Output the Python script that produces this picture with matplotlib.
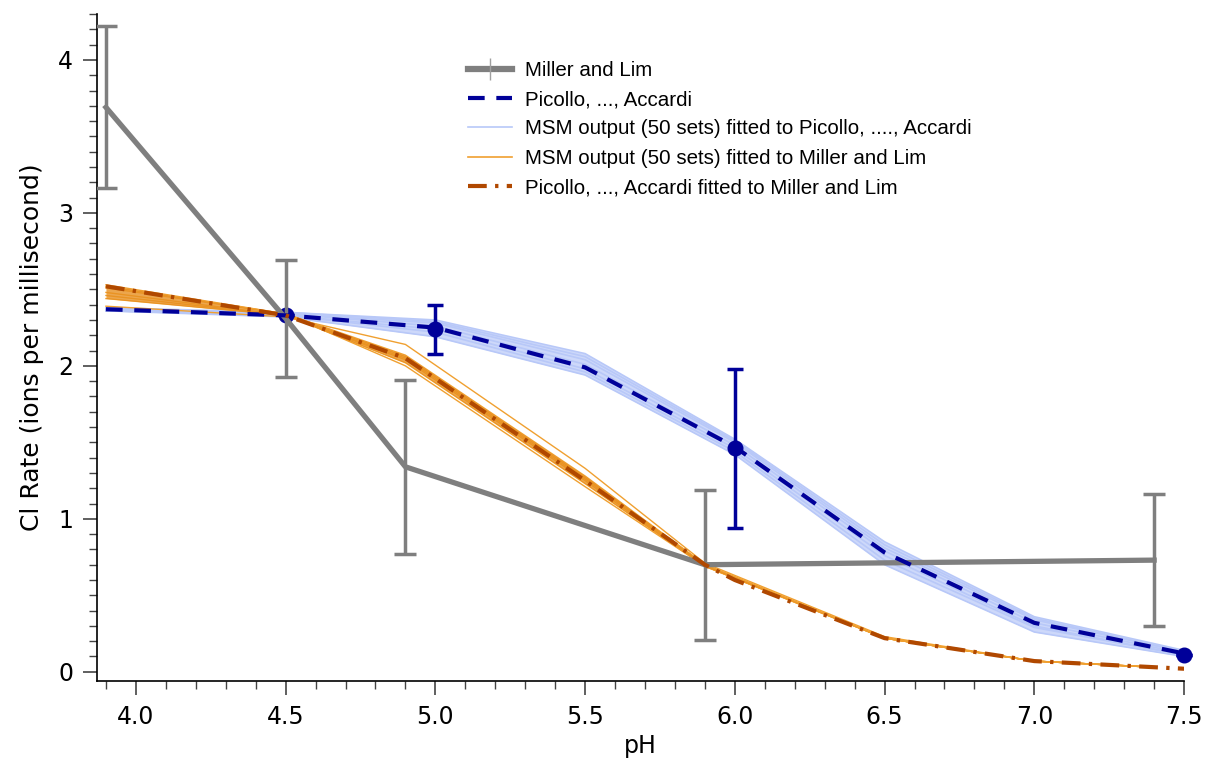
import matplotlib
matplotlib.use("Agg")
import matplotlib.pyplot as plt
from matplotlib.ticker import MultipleLocator
from matplotlib.lines import Line2D
import numpy as np

# Miller and Lim (measured)
ml_ph = [3.9, 4.5, 4.9, 5.9, 7.4]
ml_rate = [3.69, 2.31, 1.34, 0.70, 0.73]
ml_err = [0.53, 0.38, 0.57, 0.49, 0.43]

# Picollo, ..., Accardi model curve
pa_ph = [3.9, 4.5, 5.0, 5.5, 6.0, 6.5, 7.0, 7.5]
pa_rate = [2.37, 2.33, 2.25, 1.99, 1.47, 0.78, 0.32, 0.12]

# Picollo measured points
pa_pts_ph = [4.5, 5.0, 6.0, 7.5]
pa_pts_rate = [2.33, 2.24, 1.46, 0.11]
pa_pts_err = [0.0, 0.16, 0.52, 0.0]

# MSM output fitted to Picollo (a few of the 50 sets)
msm_pa_sets = [
    [2.38, 2.35, 2.30, 2.08, 1.52, 0.85, 0.36, 0.14],
    [2.37, 2.35, 2.29, 2.06, 1.51, 0.83, 0.35, 0.13],
    [2.37, 2.34, 2.28, 2.04, 1.50, 0.81, 0.34, 0.13],
    [2.37, 2.34, 2.26, 2.01, 1.48, 0.79, 0.32, 0.12],
    [2.36, 2.33, 2.24, 1.98, 1.46, 0.76, 0.30, 0.11],
    [2.36, 2.33, 2.22, 1.96, 1.44, 0.73, 0.29, 0.11],
    [2.36, 2.32, 2.19, 1.94, 1.42, 0.70, 0.26, 0.10],
]

# MSM output fitted to Miller and Lim
msm_ml_ph = [3.9, 4.5, 4.9, 5.5, 5.9, 6.5, 7.0, 7.4]
msm_ml_sets = [
    [2.53, 2.34, 2.07, 1.28, 0.70, 0.22, 0.07, 0.03],
    [2.51, 2.34, 2.06, 1.27, 0.70, 0.22, 0.07, 0.03],
    [2.48, 2.33, 2.05, 1.26, 0.70, 0.22, 0.07, 0.03],
    [2.46, 2.33, 2.04, 1.25, 0.69, 0.22, 0.07, 0.03],
    [2.44, 2.33, 2.02, 1.23, 0.69, 0.22, 0.07, 0.03],
    [2.39, 2.32, 2.14, 1.33, 0.71, 0.23, 0.07, 0.03],
    [2.52, 2.34, 2.00, 1.21, 0.69, 0.22, 0.07, 0.03],
]

# Picollo, ..., Accardi fitted to Miller and Lim
pam_ph = [3.9, 4.5, 4.9, 5.5, 5.9, 6.0, 6.5, 7.0, 7.5]
pam_rate = [2.52, 2.33, 2.05, 1.25, 0.70, 0.60, 0.22, 0.07, 0.02]

plt.rcParams['font.family'] = ['DejaVu Sans']

fig = plt.figure(figsize=(12.06, 7.66), dpi=100)
ax = fig.add_axes([0.0804, 0.111, 0.9014, 0.8707])

gray = '#7f7f7f'
navy = '#000099'
light_blue = '#b8c8f8'
orange = '#f0a030'
brown = '#b04800'

# blue band
for s in msm_pa_sets:
    ax.plot(pa_ph, s, color=light_blue, lw=1.2, zorder=1)
ax.fill_between(pa_ph, np.min(msm_pa_sets, axis=0), np.max(msm_pa_sets, axis=0),
                color=light_blue, alpha=0.7, lw=0, zorder=1)

# orange band
for s in msm_ml_sets:
    ax.plot(msm_ml_ph, s, color=orange, lw=1.0, zorder=2)
ax.fill_between(msm_ml_ph, np.min(msm_ml_sets[:5], axis=0), np.max(msm_ml_sets[:5], axis=0),
                color='#e89020', alpha=0.8, lw=0, zorder=2)

ax.errorbar(pa_pts_ph, pa_pts_rate, yerr=pa_pts_err, fmt='o', color=navy, ms=10.5,
            elinewidth=2.5, capsize=6, capthick=2.5, zorder=2.5, clip_on=False)

ax.errorbar(ml_ph, ml_rate, yerr=ml_err, color=gray, lw=3.8, elinewidth=2.5,
            capsize=8, capthick=2.5, zorder=3)

ax.plot(pa_ph, pa_rate, color=navy, lw=3, ls=(0, (4, 2.8)), zorder=4)
ax.plot(pam_ph, pam_rate, color=brown, lw=3, ls=(0, (4.5, 2, 0.8, 2)), zorder=5)

ax.set_xlim(3.87, 7.5)
ax.set_ylim(-0.06, 4.3)
ax.xaxis.set_major_locator(MultipleLocator(0.5))
ax.xaxis.set_minor_locator(MultipleLocator(0.1))
ax.yaxis.set_major_locator(MultipleLocator(1))
ax.yaxis.set_minor_locator(MultipleLocator(0.1))
ax.xaxis.set_major_formatter(matplotlib.ticker.FormatStrFormatter('%.1f'))
for s in ['top', 'right']:
    ax.spines[s].set_visible(False)
for s in ['left', 'bottom']:
    ax.spines[s].set_linewidth(1.2)
ax.tick_params(which='major', length=10, width=1.2, color='#444444', labelsize=17, pad=7)
ax.tick_params(which='minor', length=6, width=1.0, color='#444444')

ax.set_xlabel('pH', fontsize=17, labelpad=4)
ax.set_ylabel('Cl Rate (ions per millisecond)', fontsize=18, labelpad=10)

# legend handles
leg_handles = [
    Line2D([], [], color=gray, lw=4.5, marker='|', ms=16, mew=1, mec='#a0a0a0'),
    Line2D([], [], color=navy, lw=3, ls=(0, (4, 2.8))),
    Line2D([], [], color=light_blue, lw=1.2),
    Line2D([], [], color=orange, lw=1.2),
    Line2D([], [], color=brown, lw=3, ls=(0, (4.5, 2, 0.8, 2))),
]
leg_labels = ['Miller and Lim', 'Picollo, ..., Accardi',
              'MSM output (50 sets) fitted to Picollo, ...., Accardi',
              'MSM output (50 sets) fitted to Miller and Lim',
              'Picollo, ..., Accardi fitted to Miller and Lim']
ax.legend(leg_handles, leg_labels, loc='upper left', bbox_to_anchor=(0.334, 0.942),
          frameon=False, prop={'family': 'Liberation Sans', 'size': 14.8},
          handlelength=2.15, handletextpad=0.6, labelspacing=0.5, borderaxespad=0)

fig.savefig('out.png', dpi=100)
